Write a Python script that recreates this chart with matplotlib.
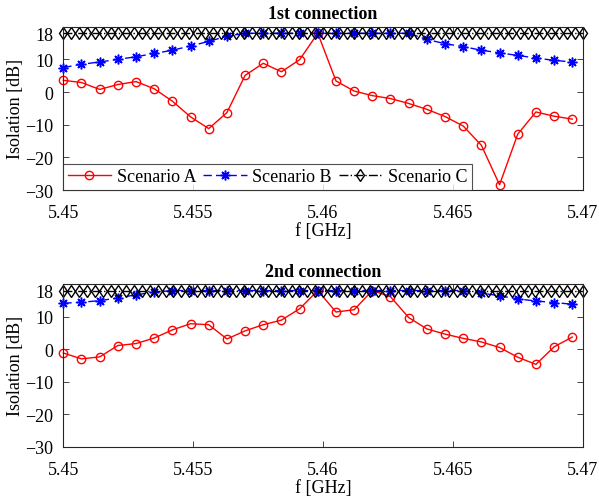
import numpy as np
import matplotlib
matplotlib.use('Agg')
import matplotlib.pyplot as plt

plt.rcParams['font.family'] = ['Liberation Serif', 'DejaVu Serif']

# frequency grid [GHz]
freq = np.round(5.45 + 0.0007 * np.arange(29), 5)
freq_c = np.linspace(5.45, 5.47, 67)

# 1st connection
iso1_a = [3.6, 2.9, 0.8, 2.3, 3.2, 1.0, -2.8, -7.6, -11.2, -6.3, 5.1, 8.8, 6.2, 9.9, 18,
          3.4, 0.3, -1.1, -2.0, -3.5, -5.3, -7.5, -10.4, -16.3, -28.4, -12.9, -6.1, -7.4, -8.3]
iso1_b = [7.5, 8.5, 9.2, 10.0, 10.8, 11.8, 12.8, 14.1, 15.5, 17.1, 18, 18, 18, 18, 18,
          18, 18, 18, 18, 18, 16.1, 14.8, 13.9, 12.8, 12.0, 11.2, 10.4, 9.7, 9.2]
# 2nd connection
iso2_a = [-1.2, -3.0, -2.4, 1.1, 1.7, 3.4, 5.9, 7.8, 7.5, 3.1, 5.6, 7.5, 8.9, 12.4, 18,
          11.4, 12.1, 18, 16.1, 9.7, 6.2, 4.6, 3.3, 2.2, 0.5, -2.5, -4.7, 0.7, 3.7]
iso2_b = [14.1, 14.4, 14.9, 15.7, 16.7, 17.5, 18, 18, 18, 18, 18, 18, 18, 18, 18,
          18, 18, 18, 18, 18, 18, 18, 18, 17.2, 16.4, 15.4, 14.8, 14.3, 13.8]
iso_c = [18] * len(freq_c)

titles = ['1st connection', '2nd connection']
xticks = [5.45, 5.455, 5.46, 5.465, 5.47]
xticklabels = ['5.45', '5.455', '5.46', '5.465', '5.47']
yticks = [-30, -20, -10, 0, 10, 18]

gray = (0.15, 0.15, 0.15)
fig = plt.figure(figsize=(5.99, 5.02), dpi=100)
ax1 = fig.add_axes([0.1057, 0.6195, 0.867, 0.3253])
ax2 = fig.add_axes([0.1057, 0.1082, 0.867, 0.324])

for ax, ya, yb, title in [(ax1, iso1_a, iso1_b, titles[0]), (ax2, iso2_a, iso2_b, titles[1])]:
    ax.plot(freq, ya, '-', color='red', lw=1, marker='o', ms=6, mfc='none',
            mew=1, label='Scenario A', clip_on=False)
    ax.plot(freq, yb, '--', color='blue', lw=1, marker=(8, 2, 0), ms=7,
            mew=1.1, label='Scenario B', dashes=(6, 3), clip_on=False)
    ax.plot(freq_c, iso_c, '-.', color='black', lw=1, marker='d', ms=6, mfc='none',
            mew=1, label='Scenario C', clip_on=False)
    ax.set_xlim(5.45, 5.47)
    ax.set_ylim(-30, 20)
    ax.set_xticks(xticks)
    ax.set_xticklabels(xticklabels)
    ax.set_yticks(yticks)
    ax.tick_params(direction='in', top=True, right=True, length=4, width=0.6,
                   labelsize=13, colors=gray, labelcolor='black')
    ax.tick_params(axis='x', pad=10)
    ax.tick_params(axis='y', pad=7)
    for s in ax.spines.values():
        s.set_color(gray)
        s.set_linewidth(0.8)
    ax.set_xlabel('f [GHz]', fontsize=13, labelpad=1)
    ax.set_ylabel('Isolation [dB]', fontsize=13, labelpad=1)
    ax.set_title(title, fontsize=13, fontweight='bold', pad=6)

leg = ax1.legend(loc='lower left', ncol=3, fontsize=13, borderaxespad=0,
                 frameon=True, fancybox=False, handlelength=2.4, handletextpad=0.3,
                 columnspacing=0.4, borderpad=0.25)
leg.get_frame().set_edgecolor(gray)
leg.get_frame().set_linewidth(0.8)

fig.savefig('out.png', dpi=100)
